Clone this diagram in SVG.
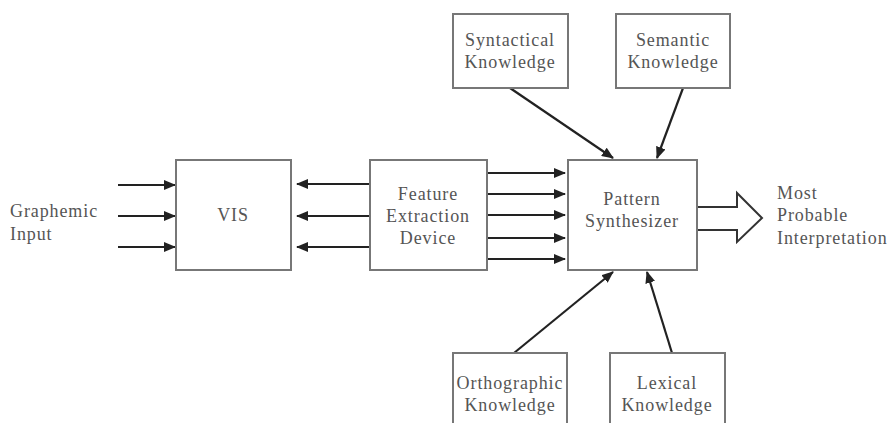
<svg xmlns="http://www.w3.org/2000/svg" width="890" height="423" viewBox="0 0 890 423">
<defs>
<marker id="ah" viewBox="0 0 12 10" refX="11" refY="5" markerWidth="12" markerHeight="10" markerUnits="userSpaceOnUse" orient="auto">
<path d="M0,0 L12,5 L0,10 Z" fill="#222"/>
</marker>
<style>
.box{fill:#fff;stroke:#777;stroke-width:2}
.t{font-family:"Liberation Serif","DejaVu Serif",serif;font-size:18px;letter-spacing:0.9px;fill:#555;text-anchor:middle}
.tl{font-family:"Liberation Serif","DejaVu Serif",serif;font-size:18px;letter-spacing:0.9px;fill:#555}
.c{stroke:#222;stroke-width:2.2;fill:none;marker-end:url(#ah)}
</style>
</defs>
<rect width="890" height="423" fill="#fff"/>
<g id="connectors">
<line class="c" x1="118" y1="185" x2="175" y2="185"/>
<line class="c" x1="118" y1="216" x2="175" y2="216"/>
<line class="c" x1="118" y1="247" x2="175" y2="247"/>
<line class="c" x1="370" y1="184" x2="297" y2="184"/>
<line class="c" x1="370" y1="216" x2="297" y2="216"/>
<line class="c" x1="370" y1="247" x2="297" y2="247"/>
<line class="c" x1="487" y1="173" x2="565" y2="173"/>
<line class="c" x1="487" y1="194" x2="565" y2="194"/>
<line class="c" x1="487" y1="215" x2="565" y2="215"/>
<line class="c" x1="487" y1="238" x2="565" y2="238"/>
<line class="c" x1="487" y1="259" x2="565" y2="259"/>
<line class="c" x1="510" y1="88" x2="613" y2="158"/>
<line class="c" x1="683" y1="88" x2="657" y2="158"/>
<line class="c" x1="514" y1="353" x2="613" y2="272"/>
<line class="c" x1="672" y1="353" x2="647" y2="272"/>
<path d="M697,207 L737,207 L737,193 L762,218 L737,242 L737,230 L697,230" fill="#fff" stroke="#333" stroke-width="2"/>
</g>
<g id="graphemic">
<text class="tl" x="10" y="217">Graphemic</text>
<text class="tl" x="10" y="240">Input</text>
</g>
<g id="vis">
<rect class="box" x="176" y="160" width="115" height="110"/>
<text class="t" x="233" y="221">VIS</text>
</g>
<g id="feature">
<rect class="box" x="370" y="160" width="117" height="110"/>
<text class="t" x="428" y="200">Feature</text>
<text class="t" x="428" y="222">Extraction</text>
<text class="t" x="428" y="244">Device</text>
</g>
<g id="pattern">
<rect class="box" x="568" y="160" width="129" height="110"/>
<text class="t" x="632" y="205">Pattern</text>
<text class="t" x="632" y="227">Synthesizer</text>
</g>
<g id="output">
<text class="tl" x="777" y="199">Most</text>
<text class="tl" x="777" y="221">Probable</text>
<text class="tl" x="777" y="244">Interpretation</text>
</g>
<g id="syntactical">
<rect class="box" x="453" y="14" width="115" height="74"/>
<text class="t" x="510" y="46">Syntactical</text>
<text class="t" x="510" y="68">Knowledge</text>
</g>
<g id="semantic">
<rect class="box" x="616" y="14" width="114" height="74"/>
<text class="t" x="673" y="46">Semantic</text>
<text class="t" x="673" y="68">Knowledge</text>
</g>
<g id="orthographic">
<rect class="box" x="453" y="353" width="114" height="80"/>
<text class="t" x="510" y="389">Orthographic</text>
<text class="t" x="510" y="411">Knowledge</text>
</g>
<g id="lexical">
<rect class="box" x="610" y="353" width="115" height="80"/>
<text class="t" x="667" y="389">Lexical</text>
<text class="t" x="667" y="411">Knowledge</text>
</g>
</svg>
